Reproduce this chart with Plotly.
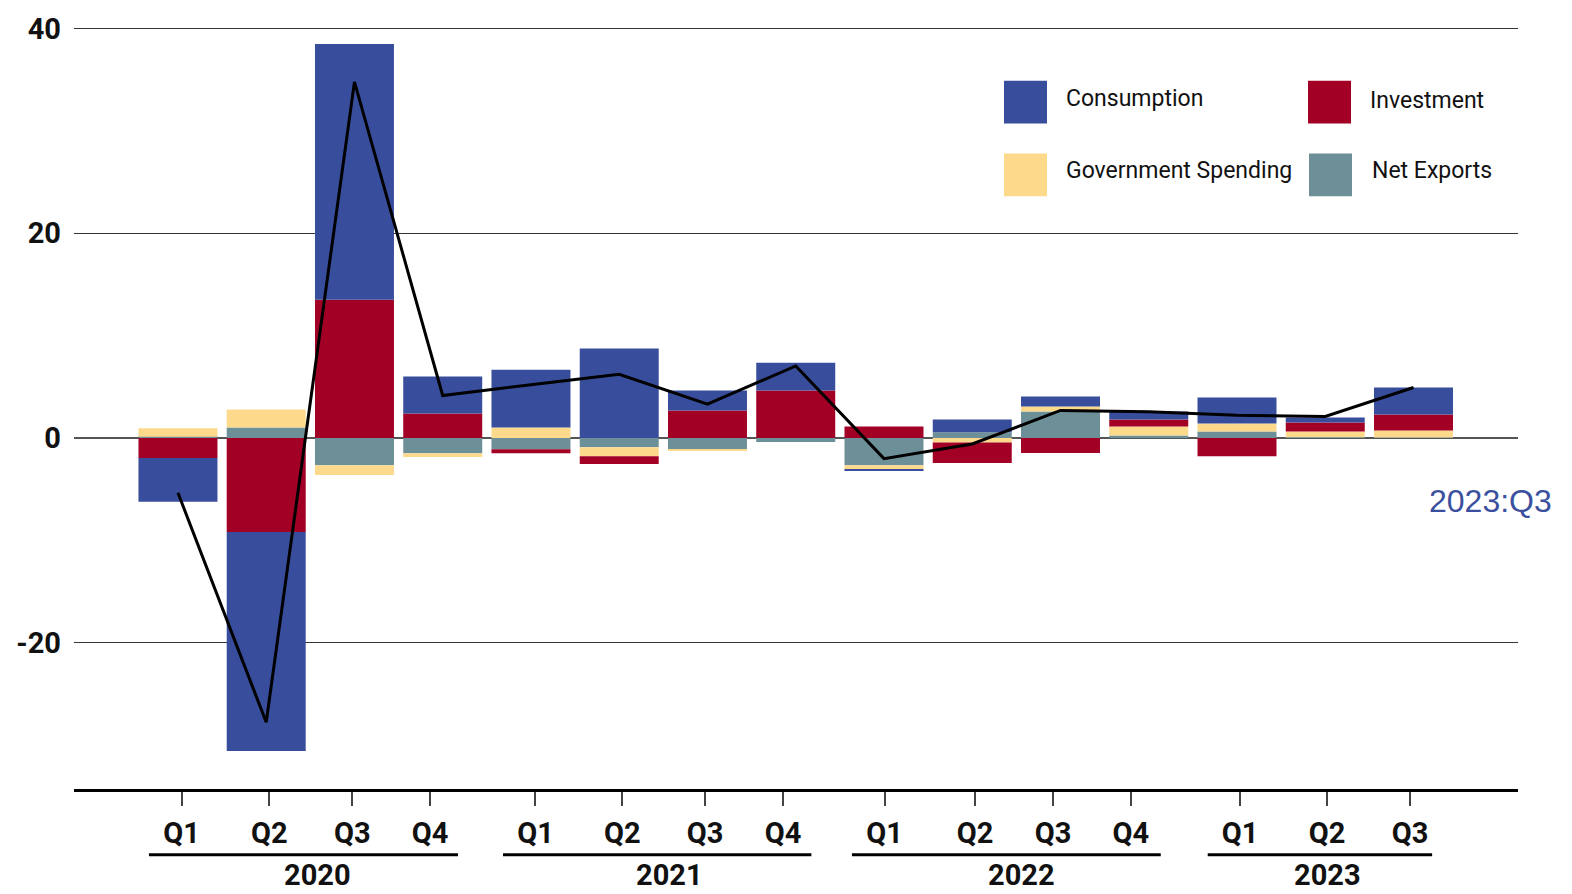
import plotly.graph_objects as go

# ---------------- data ----------------
quarters = ["2020Q1", "2020Q2", "2020Q3", "2020Q4",
            "2021Q1", "2021Q2", "2021Q3", "2021Q4",
            "2022Q1", "2022Q2", "2022Q3", "2022Q4",
            "2023Q1", "2023Q2", "2023Q3"]
consumption = [-4.28, -21.4, 25.0, 3.6, 5.65, 8.74, 1.94, 2.73,
               -0.1, 1.26, 0.97, 0.78, 2.53, 0.49, 2.63]
investment = [-1.97, -9.2, 13.5, 2.39, -0.39, -0.75, 2.68, 4.62,
              1.12, -2.01, -1.48, 0.68, -1.8, 0.88, 1.56]
government = [0.83, 1.76, -0.94, -0.36, 1.02, -0.88, -0.19, 0.0,
              -0.45, -0.44, 0.49, 0.88, 0.78, 0.58, 0.7]
net_exports = [0.1, 1.02, -2.68, -1.51, -1.12, -0.92, -1.09, -0.41,
               -2.68, 0.54, 2.58, 0.24, 0.63, 0.05, 0.03]
gdp_growth = [-5.37, -27.8, 34.8, 4.14, 5.2, 6.21, 3.29, 7.03,
              -2.03, -0.6, 2.68, 2.55, 2.22, 2.1, 4.92]

quarter_labels = ["Q1", "Q2", "Q3", "Q4", "Q1", "Q2", "Q3", "Q4",
                  "Q1", "Q2", "Q3", "Q4", "Q1", "Q2", "Q3"]
quarter_tick_pos = [0.042, 1.035, 1.975, 2.856,
                    4.051, 5.036, 5.972, 6.856,
                    8.006, 9.031, 9.915, 10.798,
                    12.034, 13.020, 13.960]
years = ["2020", "2021", "2022", "2023"]
year_label_pos = [1.586, 5.575, 9.558, 13.031]
year_spans = [(-0.329, 3.173), (3.683, 7.177), (7.637, 11.136), (11.668, 14.211)]

y_tickvals = [-20, 0, 20, 40]
y_ticktext = ["-20", "0", "20", "40"]

C_CONS = "#384e9c"
C_INV = "#a30026"
C_GOV = "#fcd98b"
C_NX = "#6d8f97"

x_idx = list(range(len(quarters)))

# ---------------- figure ----------------
W, H = 1572, 894
ML, MR, MT, MB = 74, 54, 19, 105
PW, PH = W - ML - MR, H - MT - MB


def xp(px):
    return (px - ML) / PW


def yp(py):
    return (H - MB - py) / PH


fig = go.Figure()
series = [("Net Exports", net_exports, C_NX),
          ("Government Spending", government, C_GOV),
          ("Investment", investment, C_INV),
          ("Consumption", consumption, C_CONS)]
for name, vals, col in series:
    fig.add_trace(go.Bar(x=x_idx, y=vals, name=name, marker_color=col,
                         marker_line_width=0, showlegend=False,
                         customdata=quarters,
                         hovertemplate="%{customdata}<br>" + name + ": %{y}<extra></extra>"))

fig.add_trace(go.Scatter(x=x_idx, y=gdp_growth, mode="lines",
                         line=dict(color="black", width=3),
                         showlegend=False, customdata=quarters,
                         hovertemplate="%{customdata}<br>GDP: %{y}<extra></extra>"))

# legend (manual, large swatches)
legend_items = [("Consumption", C_CONS, 1004, 78, 1064, 96),
                ("Investment", C_INV, 1308, 78, 1368, 98),
                ("Government Spending", C_GOV, 1004, 151, 1064, 168),
                ("Net Exports", C_NX, 1309, 151, 1370, 168)]
shapes = []
annotations = []
for name, col, sx, sy, tx, ty in legend_items:
    shapes.append(dict(type="rect", xref="paper", yref="paper",
                       x0=xp(sx), x1=xp(sx + 43), y0=yp(sy + 43), y1=yp(sy),
                       fillcolor=col, line_width=0))
    annotations.append(dict(text=name, xref="paper", yref="paper",
                            x=xp(tx), y=yp(ty), xanchor="left", yanchor="middle",
                            showarrow=False,
                            font=dict(family="Roboto", size=23, color="#111111")))

# year underlines and labels
for yr, (a, b), lp in zip(years, year_spans, year_label_pos):
    shapes.append(dict(type="line", xref="x", yref="paper",
                       x0=a, x1=b, y0=yp(855), y1=yp(855),
                       line=dict(color="black", width=3)))
    annotations.append(dict(text=yr, xref="x", yref="paper", x=lp, y=yp(875),
                            xanchor="center", yanchor="middle", showarrow=False,
                            font=dict(family="Roboto", size=29, color="#111111",
                                      weight="bold")))

annotations.append(dict(text="2023:Q3", xref="paper", yref="paper",
                        x=xp(1554), y=yp(500), xanchor="right", yanchor="middle",
                        showarrow=False,
                        font=dict(family="Liberation Sans", size=32, color="#3a509e")))

fig.update_layout(
    width=W, height=H,
    margin=dict(l=ML, r=MR, t=MT, b=MB),
    paper_bgcolor="white", plot_bgcolor="white",
    barmode="relative", bargap=0.105,
    shapes=shapes, annotations=annotations,
    font=dict(family="Roboto", color="#111111"),
)
fig.update_xaxes(range=[-1.178, 15.184], showgrid=False, zeroline=False,
                 tickmode="array", tickvals=quarter_tick_pos, ticktext=quarter_labels,
                 ticks="outside", ticklen=14, tickwidth=2, tickcolor="#444444",
                 showline=True, linecolor="black", linewidth=2.5,
                 tickfont=dict(family="Roboto", size=29, color="#111111", weight="bold"),
                 ticklabelstandoff=2)
fig.update_yaxes(range=[-34.32, 40.65], tickmode="array",
                 tickvals=y_tickvals, ticktext=y_ticktext,
                 showgrid=True, gridcolor="#333333", gridwidth=1.3,
                 zeroline=True, zerolinecolor="#555555", zerolinewidth=2.2,
                 showline=False, ticks="",
                 tickfont=dict(family="Roboto", size=29, color="#111111", weight="bold"),
                 ticklabelstandoff=12)

fig.write_html(
    "out.html",
    config={"displayModeBar": False},
    post_script="document.body.style.margin='0';document.body.style.padding='0';"
                "document.body.style.overflow='hidden';",
)
